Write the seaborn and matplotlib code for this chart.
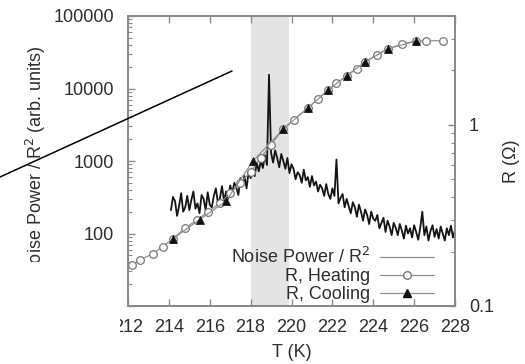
import numpy as np
import pandas as pd
import matplotlib
matplotlib.use("Agg")
import matplotlib.pyplot as plt
from matplotlib.lines import Line2D
from matplotlib.patches import Rectangle
from matplotlib.ticker import LogLocator, NullFormatter
import seaborn as sns

# ---- data -------------------------------------------------------------
# noise power / R^2, sampled every 0.1 K from 214.1 K to 228.0 K
noise_T = [round(214.1 + 0.1 * i, 1) for i in range(140)]
noise_P = [
    210, 320, 280, 175, 240, 360, 200, 230, 330, 210,
    290, 380, 220, 260, 190, 340, 300, 210, 370, 250,
    230, 330, 420, 260, 310, 450, 280, 380, 300, 460,
    360, 500, 430, 340, 580, 470, 620, 420, 700, 580,
    780, 620, 940, 720, 1000, 800, 1200, 880, 15500, 1300,
    950, 1400, 1100, 820, 1250, 1000, 780, 1100, 680, 900,
    780, 560, 700, 640, 500, 760, 540, 600, 440, 620,
    460, 520, 380, 470, 420, 330, 480, 350, 300, 420,
    330, 1050, 260, 310, 350, 230, 300, 240, 190, 270,
    230, 170, 250, 200, 150, 215, 180, 135, 200, 160,
    150, 180, 118, 140, 165, 105, 150, 125, 95, 140,
    120, 95, 135, 110, 85, 128, 100, 118, 88, 130,
    105, 82, 120, 200, 95, 125, 80, 108, 130, 90,
    115, 85, 125, 100, 80, 118, 95, 128, 88, 112,
]

# resistance on heating
heat_T = [212.2, 212.6, 213.2, 213.7, 214.2, 214.8, 215.4, 215.9, 216.5, 217.0,
          217.5, 218.0, 218.5, 219.0, 219.6, 220.1, 220.8, 221.3, 221.8, 222.2,
          222.7, 223.2, 223.6, 224.2, 224.7, 225.4, 226.1, 226.6, 227.4]
heat_R = [0.168, 0.180, 0.194, 0.213, 0.235, 0.27, 0.30, 0.33, 0.37, 0.42,
          0.48, 0.55, 0.66, 0.78, 0.95, 1.07, 1.24, 1.40, 1.56, 1.70,
          1.87, 2.05, 2.23, 2.45, 2.63, 2.80, 2.91, 2.92, 2.92]

# resistance on cooling
cool_T = [214.2, 215.5, 216.8, 218.1, 219.6, 220.8, 221.8, 222.7, 223.6, 224.7, 226.1]
cool_R = [0.235, 0.30, 0.38, 0.63, 0.95, 1.24, 1.56, 1.87, 2.23, 2.63, 2.91]

x_ticks = [212, 214, 216, 218, 220, 222, 224, 226, 228]
left_ticks = [10, 100, 1000, 10000, 100000]
left_labels = ["", "100", "1000", "10000", "100000"]
right_ticks = [0.1, 1]
right_labels = ["0.1", "1"]

noise_df = pd.DataFrame({"T": noise_T, "P": noise_P})
heat_df = pd.DataFrame({"T": heat_T, "R": heat_R})
cool_df = pd.DataFrame({"T": cool_T, "R": cool_R})

# ---- style ------------------------------------------------------------
sns.set_theme(style="ticks")
plt.rcParams["font.family"] = ["Liberation Sans", "DejaVu Sans"]
txt = "#2e2e2e"
spine_c = "#8a8a8a"

fig = plt.figure(figsize=(5.25, 3.64), dpi=100)
ax = fig.add_axes([128 / 525, 1 - 306 / 364, 327 / 525, 290 / 364])
ax2 = ax.twinx()

# transition window
ax.axvspan(218.0, 219.9, color="#e4e4e4", lw=0, zorder=0)

sns.lineplot(data=noise_df, x="T", y="P", ax=ax, color="#151515", lw=1.3,
             estimator=None, sort=False, legend=False)
sns.lineplot(data=heat_df, x="T", y="R", ax=ax2, color="#909090", lw=0.9,
             marker="o", markersize=5.5, markerfacecolor="white",
             markeredgecolor="#777777", markeredgewidth=0.9,
             estimator=None, sort=False, legend=False)
sns.lineplot(data=cool_df, x="T", y="R", ax=ax2, color="#909090", lw=0.9,
             marker="^", markersize=5.5, markerfacecolor="#111111",
             markeredgecolor="#111111", markeredgewidth=0.5,
             estimator=None, sort=False, legend=False)

ax.set_yscale("log")
ax2.set_yscale("log")
ax.set_xlim(212, 228)
ax.set_ylim(10, 100000)
ax2.set_ylim(0.1, 4.0)

ax.set_xticks(x_ticks)
ax.set_xticklabels([str(t) for t in x_ticks])
ax.set_yticks(left_ticks)
ax.set_yticklabels(left_labels)
ax2.set_yticks(right_ticks)
ax2.set_yticklabels(right_labels)
for a in (ax, ax2):
    a.yaxis.set_minor_locator(LogLocator(base=10, subs=np.arange(2, 10)))
    a.yaxis.set_minor_formatter(NullFormatter())

ax.tick_params(axis="x", which="both", direction="in", top=True, bottom=True,
               length=5, width=1, color=spine_c, labelsize=13, labelcolor=txt, pad=9)
ax.tick_params(axis="y", which="major", direction="in", left=True, right=False,
               length=5, width=1, color=spine_c, labelsize=13, labelcolor=txt, pad=10)
ax.tick_params(axis="y", which="minor", direction="in", left=True, right=False,
               length=3, width=0.8, color=spine_c)
ax2.tick_params(axis="y", which="major", direction="in", right=True, left=False,
                length=5, width=1, color=spine_c, labelsize=13, labelcolor=txt, pad=10)
ax2.tick_params(axis="y", which="minor", direction="in", right=True, left=False,
                length=3, width=0.8, color=spine_c)

for a in (ax, ax2):
    for s in a.spines.values():
        s.set_color(spine_c)
        s.set_linewidth(1.3)
        s.set_visible(True)

ax.set_xlabel("T (K)", fontsize=13, color=txt, labelpad=6)
ax.set_ylabel("Noise Power / R$^2$ (arb. units)", fontsize=13, color=txt)
ax.yaxis.set_label_coords(-0.245, 0.5)
ax2.set_ylabel("R (Ω)", fontsize=13, color=txt)
ax2.yaxis.set_label_coords(1.147, 0.5)

# legend in gnuplot style: text first, sample on the right
handles = [
    Line2D([], [], color="#909090", lw=0.9),
    Line2D([], [], color="#909090", lw=0.9, marker="o", markersize=5.5,
           markerfacecolor="white", markeredgecolor="#777777"),
    Line2D([], [], color="#909090", lw=0.9, marker="^", markersize=5.5,
           markerfacecolor="#111111", markeredgecolor="#111111"),
]
labels = ["Noise Power / R$^2$", "R, Heating", "R, Cooling"]
leg = ax.legend(handles, labels, loc="lower right",
                bbox_to_anchor=((434 - 128) / 327, 0.01),
                frameon=False, markerfirst=False, fontsize=13,
                handlelength=3.0, handletextpad=0.55, labelspacing=0.05,
                borderpad=0, borderaxespad=0)
for t in leg.get_texts():
    t.set_color(txt)

# diagonal pointer line across the upper left
fig.add_artist(Line2D([0, 232 / 525], [1 - 177 / 364, 1 - 71 / 364],
                      transform=fig.transFigure, color="black", lw=1.1))
# blank strip over the lower left margin
fig.add_artist(Rectangle((0, 0), 120 / 525, (364 - 262) / 364,
                         transform=fig.transFigure, facecolor="white",
                         edgecolor="none", zorder=10))

fig.savefig("out.png", dpi=100)
